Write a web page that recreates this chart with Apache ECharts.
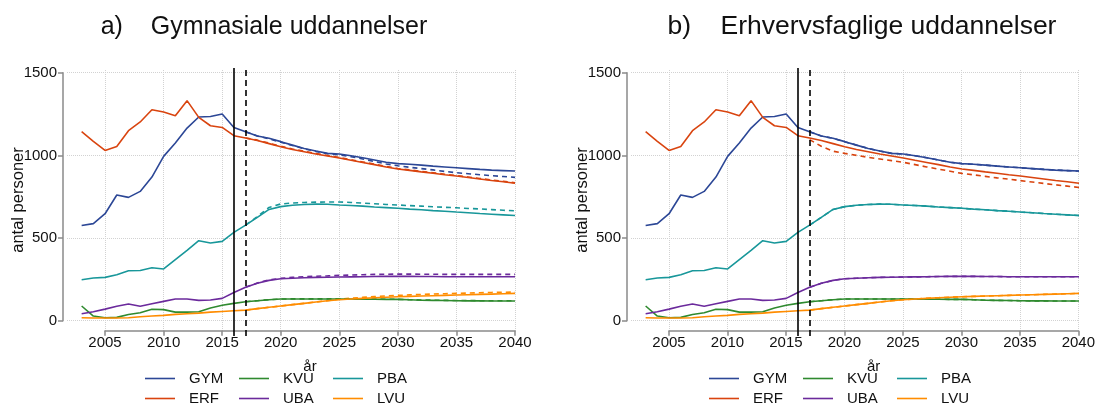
<!DOCTYPE html>
<html>
<head>
<meta charset="utf-8">
<script src="https://cdn.jsdelivr.net/npm/echarts@6/dist/echarts.min.js"></script>
<style>
  html, body { margin: 0; padding: 0; background: #fff; }
  #chart { width: 1098px; height: 405px; }
</style>
</head>
<body>
<div id="chart"></div>
<script>
// år 2003-2040 (solid lines) and projection years 2017-2040 (dashed lines)
const years = [2003, 2004, 2005, 2006, 2007, 2008, 2009, 2010, 2011, 2012, 2013, 2014, 2015, 2016,
  2017, 2018, 2019, 2020, 2021, 2022, 2023, 2024, 2025, 2026, 2027, 2028, 2029, 2030,
  2031, 2032, 2033, 2034, 2035, 2036, 2037, 2038, 2039, 2040];
const projYears = years.slice(14);

// solid lines (same in both panels)
const gym = [576, 587, 647, 760, 746, 782, 869, 994, 1075, 1165, 1232, 1235, 1250, 1169,
  1143, 1117, 1103, 1083, 1062, 1042, 1026, 1012, 1008, 998, 986, 972, 958, 950,
  946, 941, 935, 930, 925, 920, 915, 911, 908, 905];
const erf = [1143, 1085, 1030, 1054, 1149, 1202, 1276, 1262, 1240, 1331, 1230, 1179, 1169, 1119,
  1105, 1090, 1071, 1052, 1036, 1022, 1008, 996, 984, 970, 957, 944, 930, 918,
  909, 900, 892, 883, 875, 866, 857, 848, 840, 831];
const kvu = [89, 28, 18, 20, 38, 48, 69, 67, 52, 52, 54, 77, 93, 105,
  115, 121, 127, 131, 131, 131, 131, 131, 131, 131, 130, 130, 129, 129,
  127, 124, 123, 122, 121, 120, 120, 119, 119, 119];
const uba = [42, 54, 70, 87, 101, 87, 103, 117, 131, 131, 123, 125, 135, 171,
  202, 226, 244, 254, 257, 260, 262, 263, 264, 265, 266, 267, 268, 268,
  268, 267, 267, 266, 266, 266, 266, 266, 266, 266];
const pba = [248, 258, 262, 278, 302, 304, 320, 313, 369, 425, 484, 470, 480, 534,
  578, 625, 673, 690, 698, 703, 705, 704, 700, 697, 693, 688, 684, 680,
  675, 671, 666, 662, 657, 653, 648, 644, 640, 636];
const lvu = [18, 16, 16, 16, 18, 24, 28, 32, 38, 42, 46, 52, 56, 60,
  64, 73, 81, 89, 97, 105, 113, 121, 127, 131, 135, 139, 142, 145,
  147, 149, 151, 153, 155, 157, 159, 161, 163, 165];

// dashed projections, panel a
const gymDashA = [1143, 1117, 1100, 1080, 1060, 1040, 1024, 1010, 1003, 992, 978, 963, 948, 937,
  928, 920, 912, 903, 895, 889, 883, 877, 872, 867];
const erfDashA = [1105, 1092, 1074, 1055, 1039, 1025, 1011, 999, 987, 973, 960, 947, 933, 921,
  912, 903, 895, 886, 878, 869, 860, 851, 843, 834];
const kvuDashA = [115, 121, 127, 131, 132, 132, 132, 132, 132, 132, 131, 131, 130, 129,
  127, 125, 124, 123, 122, 122, 121, 121, 121, 121];
const ubaDashA = [202, 228, 247, 256, 262, 266, 269, 271, 274, 276, 278, 280, 281, 282,
  282, 281, 281, 280, 280, 280, 280, 280, 280, 280];
const pbaDashA = [578, 630, 685, 706, 712, 715, 717, 718, 718, 715, 711, 707, 703, 700,
  696, 693, 689, 686, 683, 679, 676, 672, 668, 665];
const lvuDashA = [64, 73, 81, 89, 97, 105, 113, 121, 131, 136, 141, 146, 150, 153,
  156, 159, 161, 163, 165, 167, 169, 171, 172, 173];

// dashed projections, panel b (only ERF departs from the solid line)
const erfDashB = [1095, 1055, 1025, 1012, 1000, 988, 978, 968, 958, 944, 930, 917, 904, 891,
  882, 873, 864, 856, 847, 839, 830, 822, 814, 806];

const names = ['GYM', 'ERF', 'KVU', 'UBA', 'PBA', 'LVU'];
const colors = { GYM: '#2c4796', ERF: '#d9440f', KVU: '#2f8a2f', UBA: '#6b2a9c', PBA: '#18979a', LVU: '#ff8c00' };
const solid = { GYM: gym, ERF: erf, KVU: kvu, UBA: uba, PBA: pba, LVU: lvu };
const dashA = { GYM: gymDashA, ERF: erfDashA, KVU: kvuDashA, UBA: ubaDashA, PBA: pbaDashA, LVU: lvuDashA };
const dashB = { GYM: gym.slice(14), ERF: erfDashB, KVU: kvu.slice(14), UBA: uba.slice(14), PBA: pba.slice(14), LVU: lvu.slice(14) };

// legend layout: [name, column, row]
const legendSlots = [['GYM', 0, 0], ['KVU', 1, 0], ['PBA', 2, 0], ['ERF', 0, 1], ['UBA', 1, 1], ['LVU', 2, 1]];

const FONT = 'Arial, "Liberation Sans", sans-serif';
const AXIS_GREY = '#8a8a8a';
const GRID_GREY = '#d2d2d2';

const chart = echarts.init(document.getElementById('chart'));

const grid = [], xAxis = [], yAxis = [], series = [], legend = [], graphic = [];

function pair(xs, vs) {
  return xs.map((x, i) => [x, vs[i]]);
}

function addPanel(dx, title, titleX, titleSize, dashed) {
  const g0 = grid.length;
  // data grid
  grid.push({ left: 67 + dx, top: 72.7, width: 448, height: 248 });
  // x axis grid (axis line only from 2005)
  grid.push({ left: 105 + dx, top: 70, width: 410, height: 260.7 });
  // reference lines grid
  grid.push({ left: 105 + dx, top: 68, width: 410, height: 268 });

  xAxis.push({ type: 'value', gridIndex: g0, min: 2001.75, max: 2040, show: false });
  yAxis.push({
    type: 'value', gridIndex: g0, min: 0, max: 1500, interval: 500, offset: 4,
    axisLine: { show: true, lineStyle: { color: AXIS_GREY, width: 1.5 } },
    axisTick: { show: true, length: 5, lineStyle: { color: AXIS_GREY, width: 1.5 } },
    axisLabel: { fontFamily: FONT, fontSize: 15, color: '#111', margin: 6, formatter: v => String(v) },
    splitLine: { show: true, lineStyle: { type: 'dotted', color: GRID_GREY, width: 1 } }
  });

  xAxis.push({
    type: 'value', gridIndex: g0 + 1, min: 2005, max: 2040, interval: 5,
    axisLine: { show: true, lineStyle: { color: AXIS_GREY, width: 1.5 } },
    axisTick: { show: true, length: 5, lineStyle: { color: AXIS_GREY, width: 1.5 } },
    axisLabel: { fontFamily: FONT, fontSize: 15, color: '#111', margin: 5, formatter: v => String(v) },
    splitLine: { show: true, lineStyle: { type: 'dotted', color: GRID_GREY, width: 1 } },
    name: 'år', nameLocation: 'middle', nameGap: 29,
    nameTextStyle: { fontFamily: FONT, fontSize: 15, color: '#111' }
  });
  yAxis.push({ type: 'value', gridIndex: g0 + 1, min: 0, max: 1, show: false });

  xAxis.push({ type: 'value', gridIndex: g0 + 2, min: 2005, max: 2040, show: false });
  yAxis.push({ type: 'value', gridIndex: g0 + 2, min: 0, max: 1, show: false });

  names.forEach(n => {
    series.push({
      name: n, type: 'line', xAxisIndex: g0, yAxisIndex: g0,
      data: pair(years, solid[n]), symbol: 'none', silent: true,
      lineStyle: { color: colors[n], width: 1.6 }, itemStyle: { color: colors[n] }, z: 3
    });
  });
  names.forEach(n => {
    series.push({
      name: n, type: 'line', xAxisIndex: g0, yAxisIndex: g0,
      data: pair(projYears, dashed[n]), symbol: 'none', silent: true,
      lineStyle: { color: colors[n], width: 1.6, type: [5, 4] }, itemStyle: { color: colors[n] }, z: 2
    });
  });

  series.push({
    type: 'line', xAxisIndex: g0 + 2, yAxisIndex: g0 + 2, data: [], silent: true,
    markLine: {
      symbol: 'none', silent: true, label: { show: false },
      data: [
        { xAxis: 2016, lineStyle: { color: '#000', width: 1.6, type: 'solid' } },
        { xAxis: 2017, lineStyle: { color: '#000', width: 1.6, type: [6, 4] } }
      ]
    }
  });

  legendSlots.forEach(([n, col, row]) => {
    legend.push({
      data: [n], left: 145 + col * 94 + dx, top: 371 + row * 20, padding: 0,
      icon: 'rect', itemWidth: 30, itemHeight: 1.6, selectedMode: false,
      textStyle: { fontFamily: FONT, fontSize: 15, color: '#111', padding: [0, 0, 0, 9] }
    });
  });

  graphic.push({
    type: 'text', x: titleX, y: 27,
    style: { text: title, font: titleSize + 'px ' + FONT, fill: '#111', align: 'center', verticalAlign: 'middle' }
  });
  // y axis title, reading bottom to top
  graphic.push({
    type: 'text', x: 18 + dx, y: 200, rotation: Math.PI / 2,
    style: { text: 'antal personer', font: '16.5px ' + FONT, fill: '#111', align: 'center', verticalAlign: 'middle' }
  });
}

addPanel(0, 'a)    Gymnasiale uddannelser', 264, 25, dashA);
addPanel(564, 'b)    Erhvervsfaglige uddannelser', 862, 26.5, dashB);

chart.setOption({
  animation: false,
  backgroundColor: '#fff',
  grid, xAxis, yAxis, series, legend, graphic
});
</script>
</body>
</html>
